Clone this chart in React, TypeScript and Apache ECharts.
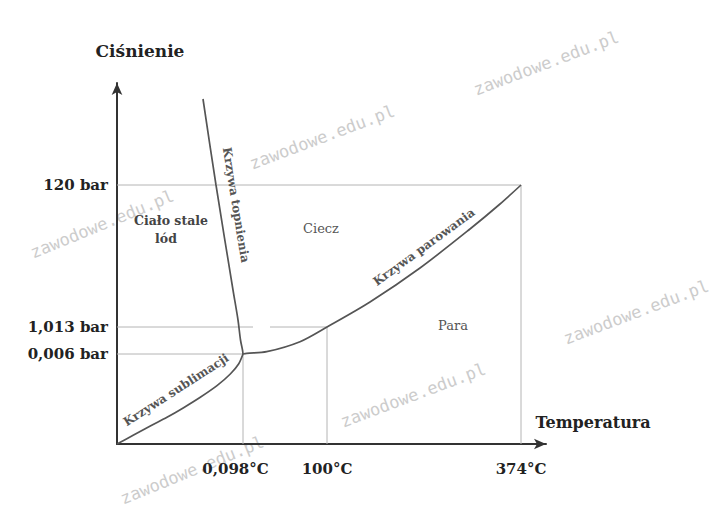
import React, { useEffect, useRef } from "react";
import * as echarts from "echarts";

// Schematic phase diagram of water (positions are schematic axis units, not to scale)
const tempLabels = ["0,098°C", "100°C", "374°C"];
const tempPos = [126, 210, 404];
const pressureLabels = ["0,006 bar", "1,013 bar", "120 bar"];
const pressurePos = [90, 117, 259];

const meltingCurve = [
  [86, 345], [99, 259], [116, 154], [121, 124], [123.5, 104], [125.5, 94], [126, 90],
];
const sublimationCurve = [
  [0, 0], [16.6, 9], [33.3, 18], [50, 26.7], [66.6, 36.3], [83.3, 46.7],
  [100, 58.3], [113.3, 70], [121.6, 80], [126, 90],
];
const vaporizationCurve = [
  [126, 90], [129.7, 90.7], [149.7, 92.3], [183, 102.3], [210, 117],
  [253, 142], [303, 176], [353, 215], [383, 240], [404, 259],
];
// the 1,013 bar guide line is interrupted in the original
const guideGap = [136, 153];

const serif = "DejaVu Serif";

export default function App() {
  const ref = useRef<HTMLDivElement>(null);
  useEffect(() => {
    document.body.style.margin = "0";
    const chart = echarts.init(ref.current!, null, { renderer: "svg" });
    const guide = (data: number[][]) => ({
      type: "line",
      data,
      symbol: "none",
      silent: true,
      lineStyle: { color: "#b4b4b4", width: 1 },
      z: 1,
    });
    const curve = (data: number[][]) => ({
      type: "line",
      data,
      symbol: "none",
      smooth: 0.3,
      silent: true,
      lineStyle: { color: "#555", width: 1.7 },
      z: 3,
    });
    const [p0, p1, p2] = pressurePos;
    const [t0, t1, t2] = tempPos;
    const nearestIdx = (arr: number[], v: number) => {
      let best = 0;
      arr.forEach((a, i) => {
        if (Math.abs(a - v) < Math.abs(arr[best] - v)) best = i;
      });
      return best;
    };
    const wm = (x: number, y: number, rot = 0.36) => ({
      type: "text",
      x,
      y,
      rotation: rot,
      silent: true,
      z: 0,
      style: {
        text: "zawodowe.edu.pl",
        fill: "#cccccc",
        font: "17px 'DejaVu Sans Mono'",
        align: "center",
        verticalAlign: "middle",
      },
    });
    const txt = (
      text: string,
      x: number,
      y: number,
      font: string,
      fill: string,
      rotation = 0
    ) => ({
      type: "text",
      x,
      y,
      rotation,
      silent: true,
      z: 10,
      style: { text, fill, font, align: "center", verticalAlign: "middle" },
    });
    const labelStyle = {
      color: "#222",
      fontFamily: serif,
      fontWeight: "bold",
      fontSize: 15,
    };
    chart.setOption({
      animation: false,
      backgroundColor: "#fff",
      grid: { left: 117, right: 167, top: 83, bottom: 85 },
      xAxis: {
        type: "value",
        min: 0,
        max: 429,
        axisLine: {
          show: true,
          symbol: ["none", "arrow"],
          symbolSize: [8, 12],
          lineStyle: { color: "#333", width: 2 },
        },
        axisTick: { show: false },
        splitLine: { show: false },
        axisLabel: {
          customValues: tempPos,
          margin: 17,
          ...labelStyle,
          formatter: (v: number) => {
            const i = nearestIdx(tempPos, v);
            return i === 0 ? `{s|${tempLabels[i]}}` : tempLabels[i];
          },
          rich: {
            s: { ...labelStyle, padding: [0, 15, 0, 0] },
          },
        },
      },
      yAxis: {
        type: "value",
        min: 0,
        max: 361,
        axisLine: {
          show: true,
          symbol: ["none", "arrow"],
          symbolSize: [8, 12],
          lineStyle: { color: "#333", width: 2 },
        },
        axisTick: { show: false },
        splitLine: { show: false },
        axisLabel: {
          customValues: pressurePos,
          margin: 9,
          ...labelStyle,
          formatter: (v: number) => pressureLabels[nearestIdx(pressurePos, v)],
        },
      },
      series: [
        guide([[0, p2], [t2, p2]]),
        guide([[t2, p2], [t2, 0]]),
        guide([[0, p1], [guideGap[0], p1]]),
        guide([[guideGap[1], p1], [t1, p1]]),
        guide([[t1, p1], [t1, 0]]),
        guide([[0, p0], [t0, p0]]),
        guide([[t0, p0], [t0, 0]]),
        curve(meltingCurve),
        curve(sublimationCurve),
        curve(vaporizationCurve),
      ],
      graphic: [
        wm(546, 63),
        wm(322, 137),
        wm(102, 224, 0.39),
        wm(636, 312),
        wm(413, 395),
        wm(192, 470, 0.39),
        txt("Ciśnienie", 140, 51, `bold 17px '${serif}'`, "#222"),
        txt("Temperatura", 593, 422, `bold 16px '${serif}'`, "#222"),
        txt("Ciało stale", 171, 220, `bold 12.5px '${serif}'`, "#444"),
        txt("lód", 166, 238, `bold 12.5px '${serif}'`, "#444"),
        txt("Ciecz", 321, 228, `13px '${serif}'`, "#555"),
        txt("Para", 453, 325, `13px '${serif}'`, "#555"),
        txt("Krzywa topnienia", 236, 205, `bold 12px '${serif}'`, "#555", -1.41),
        txt("Krzywa parowania", 424, 247, `bold 12px '${serif}'`, "#555", 0.63),
        txt("Krzywa sublimacji", 176, 390, `bold 12px '${serif}'`, "#555", 0.574),
      ],
    });
    return () => chart.dispose();
  }, []);
  return <div ref={ref} style={{ width: 713, height: 529 }} />;
}
